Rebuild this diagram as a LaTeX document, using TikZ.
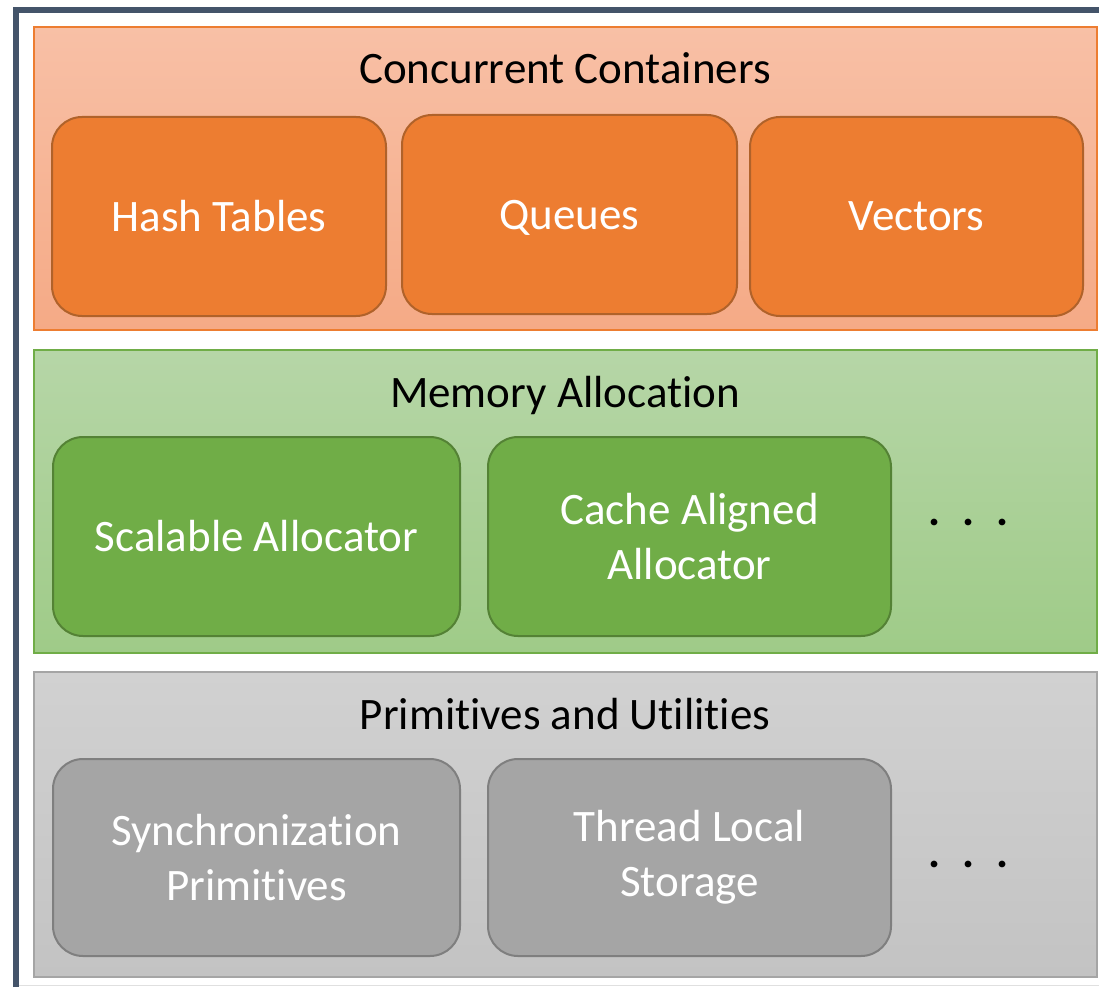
\documentclass[tikz,border=0pt]{standalone}
\usepackage{fontspec}
\setmainfont{Carlito}[Ligatures=CommonOff]
\usetikzlibrary{positioning}

\definecolor{framecol}{HTML}{44546A}
\definecolor{orangeline}{HTML}{ED7D31}
\definecolor{orangepart}{HTML}{ED7D31}
\definecolor{orangeedge}{HTML}{B0622A}
\definecolor{greenline}{HTML}{70AD47}
\definecolor{greenpart}{HTML}{70AD47}
\definecolor{greenedge}{HTML}{548235}
\definecolor{grayline}{HTML}{A5A5A5}
\definecolor{graypart}{HTML}{A5A5A5}
\definecolor{grayedge}{HTML}{7F7F7F}

\begin{document}
\begin{tikzpicture}[x=1pt, y=-1pt,
		every node/.style={font=\fontsize{45}{55}\selectfont},
		layer/.style={line width=1.3pt},
		part/.style={draw, line width=2pt, rounded corners=30pt, text=white, align=center,
			minimum height=199pt, inner sep=0pt},
		title/.style={anchor=base},
		more/.style={anchor=base, font=\fontsize{45}{55}\selectfont\bfseries}]
	\useasboundingbox (0,0) rectangle (1099,987);

	% outer frame
	\draw[framecol, line width=6pt] (16,987) -- (16,10) -- (1099,10);
	\draw[black!12, line width=1pt] (19,985.5) -- (1099,985.5);

	% concurrent containers
	\draw[layer, orangeline, top color={rgb,255:red,248;green,192;blue,166}, bottom color={rgb,255:red,245;green,170;blue,134}]
		(34,27) rectangle (1097,330);
	\node[title] (cc) at (565,84) {Concurrent Containers};
	\node[part, fill=orangepart, draw=orangeedge, minimum width=334pt] (hash) at (219,216.5) {Hash Tables};
	\node[part, fill=orangepart, draw=orangeedge, minimum width=335pt, text depth=0pt] (queues) at (569.5,214.5) {Queues};
	\node[part, fill=orangepart, draw=orangeedge, minimum width=333pt] (vectors) at (916.5,216.5) {Vectors};

	% memory allocation
	\draw[layer, greenline, top color={rgb,255:red,182;green,214;blue,167}, bottom color={rgb,255:red,159;green,203;blue,136}]
		(34,350) rectangle (1097,653);
	\node[title] (mem) at (565,407) {Memory Allocation};
	\node[part, fill=greenpart, draw=greenedge, minimum width=407pt] (scal) at (256.5,536.5) {Scalable Allocator};
	\node[part, fill=greenpart, draw=greenedge, minimum width=403pt] (cache) at (689.5,536.5) {Cache Aligned\\Allocator};
	\node[more] (memdots) at (969,525) {.\hspace{22pt}.\hspace{22pt}.};

	% primitives and utilities
	\draw[layer, grayline, top color={rgb,255:red,209;green,209;blue,209}, bottom color={rgb,255:red,195;green,195;blue,195}]
		(34,672) rectangle (1097,977);
	\node[title] (prim) at (565,729) {Primitives and Utilities};
	\node[part, fill=graypart, draw=grayedge, minimum width=407pt, minimum height=197pt] (sync) at (256.5,857.5) {Synchronization\\Primitives};
	\node[part, fill=graypart, draw=grayedge, minimum width=403pt, minimum height=197pt] (tls) at (689.5,857.5) {Thread Local\\Storage};
	\node[more] (primdots) at (969,867) {.\hspace{22pt}.\hspace{22pt}.};
\end{tikzpicture}
\end{document}
